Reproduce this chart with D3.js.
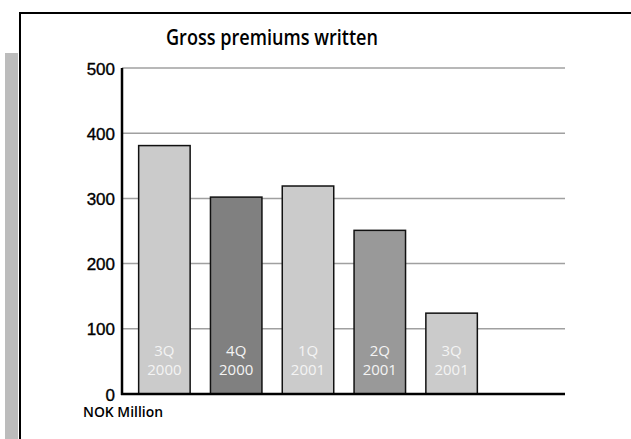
<!DOCTYPE html>
<html>
<head>
<meta charset="utf-8">
<script src="https://cdn.jsdelivr.net/npm/d3@7"></script>
<style>
  html, body { margin: 0; padding: 0; background: #fff; }
  svg { display: block; }
</style>
</head>
<body>
<svg id="chart" width="631" height="439"></svg>
<script>
// Gross premiums written per quarter, NOK million
const quarters = ["3Q", "4Q", "1Q", "2Q", "3Q"];
const years = ["2000", "2000", "2001", "2001", "2001"];
const premiums = [381, 302, 319, 251, 124];
const barColors = ["#cbcbcb", "#808080", "#cbcbcb", "#999999", "#cbcbcb"];
const yTicks = [0, 100, 200, 300, 400, 500];

(function () {
  const svg = d3.select("#chart");
  const font = "'Open Sans', 'DejaVu Sans', sans-serif";
  const tickFont = "'Liberation Sans', Arial, sans-serif";

  // page frame: gray side band, black top and left rules
  svg.append("rect").attr("x", 5).attr("y", 53).attr("width", 13).attr("height", 400).attr("fill", "#bcbcbc");
  svg.append("line").attr("x1", 20).attr("x2", 631).attr("y1", 13).attr("y2", 13)
    .attr("stroke", "#000").attr("stroke-width", 2);
  svg.append("line").attr("x1", 20).attr("x2", 20).attr("y1", 12).attr("y2", 439)
    .attr("stroke", "#000").attr("stroke-width", 2);

  const plotLeft = 122, plotRight = 565, plotTop = 68, plotBottom = 394;

  const ids = quarters.map((q, i) => i);
  const x = d3.scaleBand().domain(ids).range([128.5, 487.5]).paddingInner(0.283).paddingOuter(0.1415);
  const y = d3.scaleLinear().domain([0, 500]).range([plotBottom, plotTop]);

  // gridlines
  svg.append("g").selectAll("line").data(yTicks.filter(t => t > 0)).join("line")
    .attr("x1", plotLeft).attr("x2", plotRight)
    .attr("y1", d => y(d)).attr("y2", d => y(d))
    .attr("stroke", "#a0a0a0").attr("stroke-width", 1.5);

  // y axis labels
  const yAxis = d3.axisLeft(y).tickValues(yTicks).tickSize(0).tickPadding(7);
  const ya = svg.append("g").attr("transform", `translate(${plotLeft},0)`).call(yAxis);
  ya.select(".domain").remove();
  ya.selectAll("text").attr("font-family", tickFont).attr("font-size", 17).attr("fill", "#000")
    .attr("stroke", "#000").attr("stroke-width", 0.35).attr("dy", "0.36em");

  // bars
  svg.append("g").selectAll("rect").data(premiums).join("rect")
    .attr("x", (d, i) => x(i)).attr("width", x.bandwidth())
    .attr("y", d => y(d)).attr("height", d => y(0) - y(d))
    .attr("fill", (d, i) => barColors[i])
    .attr("stroke", "#111").attr("stroke-width", 1.5);

  // in-bar period labels
  const lbl = svg.append("g").selectAll("text").data(ids).join("text")
    .attr("x", i => x(i) + x.bandwidth() / 2)
    .attr("text-anchor", "middle")
    .attr("font-family", font).attr("font-size", 15).attr("fill", "#f4f4f4");
  lbl.append("tspan").attr("x", i => x(i) + x.bandwidth() / 2).attr("y", 355.5).text(i => quarters[i]);
  lbl.append("tspan").attr("x", i => x(i) + x.bandwidth() / 2).attr("y", 374.5).text(i => years[i]);

  // axis lines
  svg.append("line").attr("x1", plotLeft).attr("x2", plotLeft).attr("y1", plotTop).attr("y2", plotBottom + 1)
    .attr("stroke", "#000").attr("stroke-width", 2.5);
  svg.append("line").attr("x1", plotLeft - 1).attr("x2", plotRight).attr("y1", plotBottom).attr("y2", plotBottom)
    .attr("stroke", "#000").attr("stroke-width", 2.5);

  // title and unit
  svg.append("text").attr("x", 272).attr("y", 45).attr("text-anchor", "middle")
    .attr("font-family", font).attr("font-size", 22).attr("font-weight", 600).attr("fill", "#000")
    .attr("textLength", 212).attr("lengthAdjust", "spacingAndGlyphs")
    .text("Gross premiums written");
  svg.append("text").attr("x", 83).attr("y", 417)
    .attr("font-family", font).attr("font-size", 13.5).attr("font-weight", 600).attr("fill", "#000")
    .attr("textLength", 80).attr("lengthAdjust", "spacingAndGlyphs")
    .text("NOK Million");
})();
</script>
</body>
</html>
